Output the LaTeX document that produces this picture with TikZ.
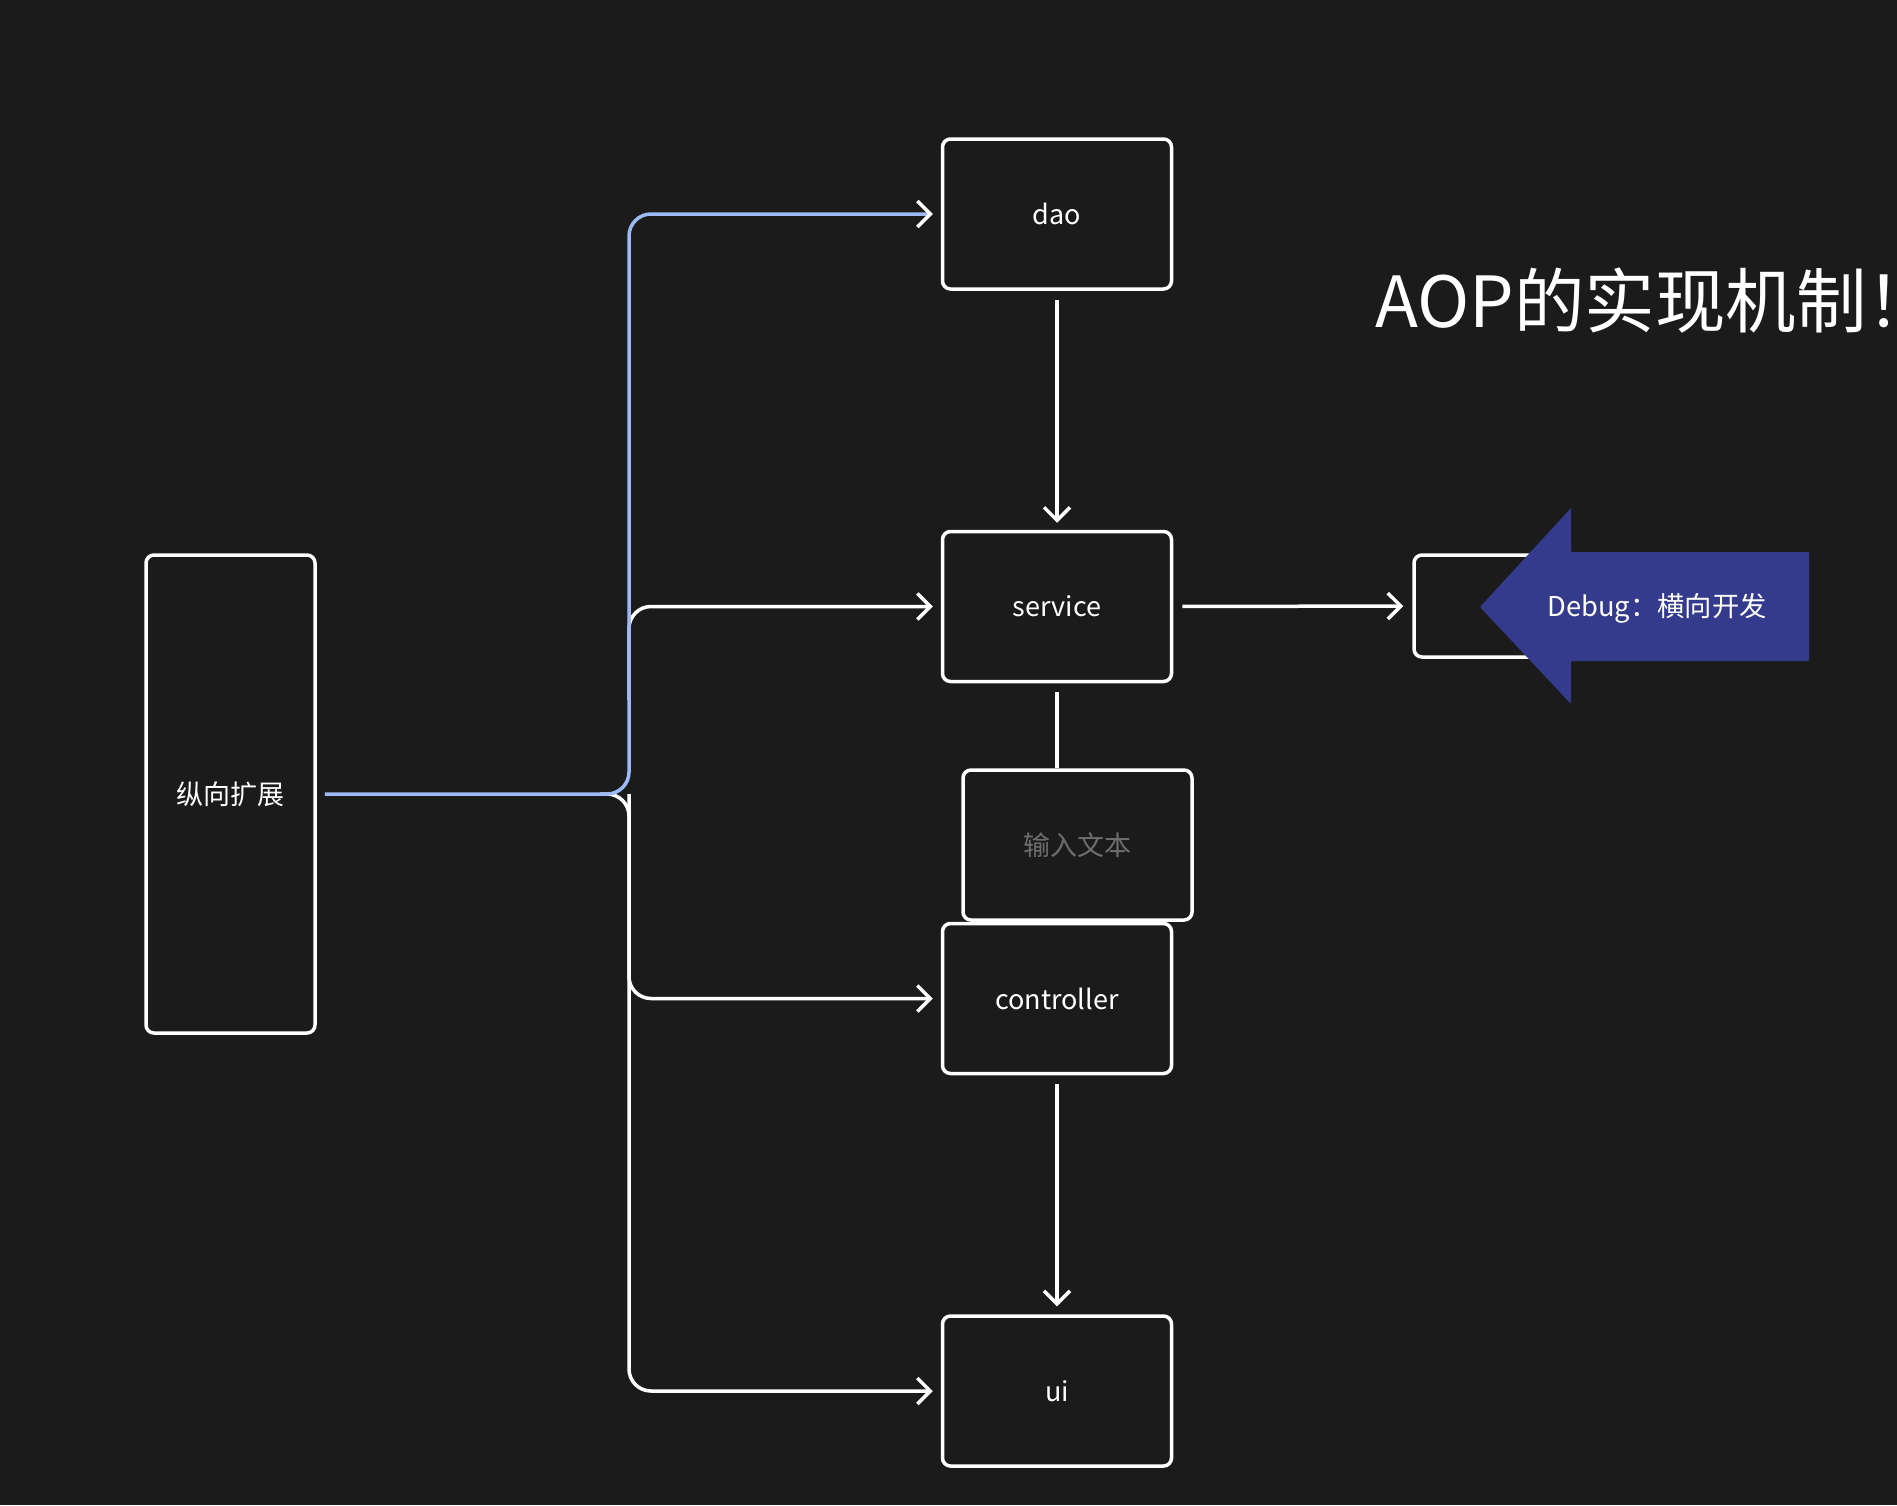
\documentclass[tikz,border=0pt]{standalone}
\usepackage{fontspec}
\setmainfont{Noto Sans CJK SC}
\usetikzlibrary{arrows.meta}
\definecolor{bg}{HTML}{1B1B1B}
\definecolor{bluel}{HTML}{9DBAF6}
\definecolor{navy}{HTML}{343B8C}
\definecolor{greytxt}{HTML}{6E6E6E}
\begin{document}
\begin{tikzpicture}[x=1pt,y=-1pt,
  box/.style={draw=white, line width=3.5pt, rounded corners=8pt, fill=bg, text=white,
    font=\fontsize{27}{31}\selectfont, inner sep=0pt},
  stdbox/.style={box, minimum width=229pt, minimum height=150pt},
  conn/.style={draw=white, line width=3.5pt, rounded corners=22pt},
  arrowtip/.style={-{Straight Barb[length=13pt,width=26pt]}},
  warrowtip/.style={-{Straight Barb[length=13pt,width=26pt,color=white]}},
  wline/.style={draw=white, line width=3.5pt}]
\fill[bg] (0,0) rectangle (1897,1505);
\useasboundingbox (0,0) rectangle (1897,1505);
\clip (0,0) rectangle (1897,1505);

% boxes
\node[box, minimum width=169pt, minimum height=478pt] (zx) at (230.5,794) {纵向扩展};
\node[stdbox] (dao) at (1057,214) {dao};
\node[stdbox] (service) at (1057,606.5) {service};
\node[stdbox, text=greytxt] (inp) at (1077.5,845) {输入文本};
\node[stdbox] (controller) at (1057,998.5) {controller};
\node[stdbox] (ui) at (1057,1391) {ui};
\node[box, minimum width=224pt, minimum height=102pt] (rb) at (1526,606) {};

% bus coordinates
\coordinate (j) at (629,794);
\coordinate (bs) at (629,700);
\coordinate (jl) at (600,794);

% white branches
\draw[conn, arrowtip, shorten >=8pt] (bs) -- (bs |- service.west) -- (service.west);
\draw[conn, arrowtip, shorten >=8pt] (jl) -- (j) -- (j |- controller.west) -- (controller.west);
\draw[conn, arrowtip, shorten >=8pt] (j) -- (j |- ui.west) -- (ui.west);

% blue branch
\draw[conn, draw=bluel, warrowtip, shorten <=8pt, shorten >=8pt] (zx.east) -- (j) -- (j |- dao.west) -- (dao.west);

% vertical connectors
\draw[wline, arrowtip, shorten <=9pt, shorten >=7pt] (dao.south) -- (service.north);
\draw[wline, shorten <=9pt] (service.south) -- (service.south |- inp.north);
\draw[wline, arrowtip, shorten <=9pt, shorten >=8pt] (controller.south) -- (ui.north);
\draw[wline, arrowtip, shorten <=9pt, shorten >=9pt] (service.east) -- (rb.west);

% big blue arrow
\fill[navy, rounded corners=1pt] (1480,607) -- (1571,508) -- (1571,552) -- (1809,552)
  -- (1809,661) -- (1571,661) -- (1571,704) -- cycle;
\node[text=white, font=\fontsize{27.3}{31}\selectfont, inner sep=0pt] (dbg) at (1657,608) {Debug：横向开发};

% title
\node[anchor=base west, text=white, font=\fontsize{70.5}{80}\selectfont, inner sep=0pt] (title) at (1375,327) {AOP的实现机制！};
\end{tikzpicture}
\end{document}
